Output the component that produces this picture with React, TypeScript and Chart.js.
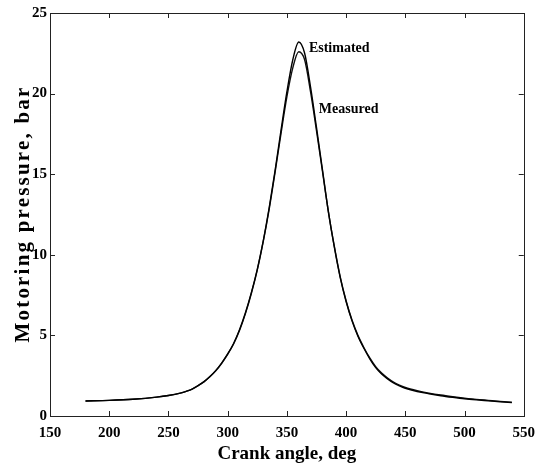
import React, { useEffect, useRef } from "react";
import { Chart, registerables } from "chart.js";

Chart.register(...registerables);

const angles = [180, 200, 220, 240, 250, 260, 265, 270, 275, 280, 285, 290, 295, 300, 305, 310, 315, 320, 325, 330, 335, 340, 345, 350, 355, 360, 365, 370, 375, 380, 385, 390, 395, 400, 405, 410, 415, 420, 425, 430, 435, 440, 445, 450, 460, 470, 480, 490, 500, 510, 520, 530, 540];
const estimated = [0.93, 0.97, 1.04, 1.17, 1.27, 1.42, 1.53, 1.67, 1.88, 2.13, 2.45, 2.83, 3.3, 3.85, 4.5, 5.35, 6.4, 7.65, 9.1, 10.85, 12.9, 15.2, 17.7, 20.1, 22.1, 23.2, 22.5, 20.4, 17.9, 15.3, 12.7, 10.5, 8.6, 7.1, 5.9, 4.95, 4.2, 3.55, 3.0, 2.6, 2.3, 2.05, 1.87, 1.72, 1.52, 1.38, 1.26, 1.16, 1.07, 1.0, 0.94, 0.88, 0.83];
const measured = [0.93, 0.97, 1.04, 1.17, 1.27, 1.42, 1.53, 1.67, 1.88, 2.12, 2.43, 2.8, 3.27, 3.82, 4.47, 5.3, 6.35, 7.6, 9.05, 10.8, 12.8, 15.1, 17.5, 19.8, 21.6, 22.6, 22.1, 20.1, 17.7, 15.2, 12.7, 10.55, 8.65, 7.15, 5.95, 5.0, 4.25, 3.6, 3.06, 2.66, 2.36, 2.11, 1.92, 1.77, 1.57, 1.42, 1.3, 1.2, 1.11, 1.03, 0.97, 0.91, 0.86];
const xTicks = [150, 200, 250, 300, 350, 400, 450, 500, 550];
const yTicks = [0, 5, 10, 15, 20, 25];
const curveLabels = [
  { text: "Estimated", angle: 368.6, value: 22.8 },
  { text: "Measured", angle: 377, value: 19.0 },
];
const xTitle = "Crank angle, deg";
const yTitle = "Motoring pressure, bar";

const SERIF = "'Liberation Serif', 'Times New Roman', serif";

export default function App() {
  const ref = useRef<HTMLCanvasElement>(null);
  useEffect(() => {
    const canvas = ref.current;
    if (!canvas) return;
    const framePlugin = {
      id: "frame",
      afterDatasetsDraw(chart: any) {
        const { ctx, chartArea: a, scales } = chart;
        const x = scales.x;
        const y = scales.y;
        ctx.save();
        ctx.strokeStyle = "#222";
        ctx.lineWidth = 1;
        ctx.strokeRect(Math.round(a.left) + 0.5, Math.round(a.top) + 0.5, Math.round(a.right - a.left), Math.round(a.bottom - a.top));
        const len = 5;
        ctx.beginPath();
        xTicks.forEach((t) => {
          const px = Math.round(x.getPixelForValue(t)) + 0.5;
          ctx.moveTo(px, a.bottom);
          ctx.lineTo(px, a.bottom - len);
          ctx.moveTo(px, a.top);
          ctx.lineTo(px, a.top + len);
        });
        yTicks.forEach((t) => {
          const py = Math.round(y.getPixelForValue(t)) + 0.5;
          ctx.moveTo(a.left, py);
          ctx.lineTo(a.left + len, py);
          ctx.moveTo(a.right, py);
          ctx.lineTo(a.right - len, py);
        });
        ctx.stroke();
        ctx.fillStyle = "#000";
        ctx.font = `bold 14px ${SERIF}`;
        ctx.textAlign = "left";
        ctx.textBaseline = "middle";
        curveLabels.forEach((l) => {
          ctx.fillText(l.text, x.getPixelForValue(l.angle), y.getPixelForValue(l.value));
        });
        // y axis title (spaced out like the reference)
        ctx.translate(29, 214);
        ctx.rotate(-Math.PI / 2);
        ctx.font = `bold 21px ${SERIF}`;
        try { (ctx as any).letterSpacing = "2.2px"; } catch (e) {}
        ctx.textAlign = "center";
        ctx.textBaseline = "alphabetic";
        ctx.fillText(yTitle, 0, 0);
        ctx.restore();
      },
    };
    const chart = new Chart(canvas, {
      type: "line",
      data: {
        datasets: [
          {
            label: "Estimated",
            data: angles.map((a, i) => ({ x: a, y: estimated[i] })),
            borderColor: "#000",
            borderWidth: 1.4,
            pointRadius: 0,
            cubicInterpolationMode: "monotone",
          },
          {
            label: "Measured",
            data: angles.map((a, i) => ({ x: a, y: measured[i] })),
            borderColor: "#111",
            borderWidth: 1.4,
            pointRadius: 0,
            cubicInterpolationMode: "monotone",
          },
        ],
      },
      options: {
        responsive: false,
        animation: false,
        layout: { padding: { top: 13, right: 19, left: 0, bottom: 0 } },
        plugins: { legend: { display: false }, tooltip: { enabled: false } },
        scales: {
          x: {
            type: "linear",
            min: 150,
            max: 550,
            afterFit: (s: any) => { s.height = 49; },
            afterBuildTicks: (s: any) => { s.ticks = xTicks.map((v) => ({ value: v })); },
            grid: { display: false, drawTicks: false },
            border: { display: false },
            ticks: { color: "#000", padding: 8, font: { family: SERIF, size: 15, weight: "bold" } },
            title: { display: true, text: xTitle, color: "#000", padding: { top: 0, bottom: 0 }, font: { family: SERIF, size: 19, weight: "bold" } },
          },
          y: {
            type: "linear",
            min: 0,
            max: 25,
            afterFit: (s: any) => { s.width = 50; },
            afterBuildTicks: (s: any) => { s.ticks = yTicks.map((v) => ({ value: v })); },
            grid: { display: false, drawTicks: false },
            border: { display: false },
            ticks: { color: "#000", padding: 3, font: { family: SERIF, size: 15, weight: "bold" } },
            title: { display: false },
          },
        },
      },
      plugins: [framePlugin],
    } as any);
    return () => chart.destroy();
  }, []);
  return (
    <div style={{ position: "absolute", left: 0, top: 0, width: 543, height: 465, background: "#fff" }}>
      <canvas ref={ref} width={543} height={465} />
    </div>
  );
}
